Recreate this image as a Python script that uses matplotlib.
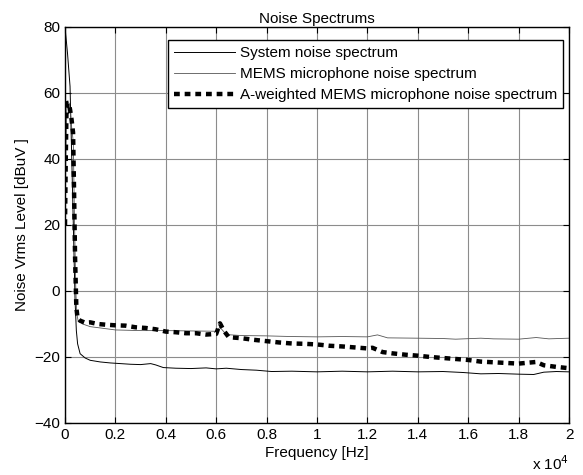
import matplotlib.pyplot as plt
import numpy as np

plt.rcParams['font.family'] = ['Liberation Sans', 'DejaVu Sans']

# Spektra (frekvence v Hz, úroveň v dBuV)
sys_freq = [0, 100, 200, 300, 400, 450, 500, 600, 800, 1000, 1400, 1800, 2200,
            2600, 3000, 3400, 3600, 3900, 4400, 5000, 5600, 6000, 6400, 7000,
            7600, 8200, 9000, 10000, 11000, 12000, 13000, 14000, 15000, 15800,
            16500, 17200, 18000, 18600, 19000, 19500, 20000]
sys_db = [80, 72, 62, 30, -3, -12, -16, -19, -20.3, -21, -21.5, -21.8, -22,
          -22.2, -22.3, -22.0, -22.4, -23.2, -23.4, -23.5, -23.3, -23.6, -23.4, -23.8,
          -24, -24.4, -24.3, -24.5, -24.3, -24.5, -24.3, -24.5, -24.4, -24.7,
          -25.1, -25, -25.2, -25.3, -24.6, -24.4, -24.5]

mems_freq = [0, 40, 80, 150, 200, 260, 330, 380, 430, 470, 520, 700, 1000, 1500,
             2000, 3000, 4000, 5000, 6000, 6150, 6400, 7000, 8000, 9000, 10000,
             11000, 12000, 12400, 12800, 14000, 15000, 15500, 16500, 17000, 18000,
             18700, 19200, 20000]
mems_db = [20, 45, 57, 57, 55, 50, 45, 20, 0, -7, -9, -10, -10.8, -11.3,
           -11.8, -12, -12, -12.1, -12.2, -11, -13.2, -13.5, -13.6, -13.8, -13.9,
           -13.8, -13.9, -13.3, -14.2, -14.3, -14.4, -14.6, -14.3, -14.5, -14.6,
           -14.1, -14.5, -14.3]

aw_freq = [0, 30, 60, 100, 150, 200, 260, 320, 360, 400, 450, 500, 600, 800,
           1000, 1300, 1600, 2000, 2400, 2800, 3200, 3600, 4000, 4400, 4800, 5200,
           5600, 6000, 6150, 6300, 6500, 7000, 7500, 8000, 8500, 9000, 9500, 10000,
           10500, 11000, 11500, 12000, 12200, 12600, 13000, 13500, 14000, 14500,
           15000, 15500, 16000, 16500, 17000, 17500, 18000, 18700, 19000, 19500, 20000]
aw_db = [20, 40, 55, 57, 57, 55, 52, 48, 30, 10, -5, -8.3, -9, -9.6,
         -9.5, -10, -10.2, -10.4, -10.5, -11, -11.2, -11.6, -12.3, -12.5, -12.8, -12.8,
         -13.2, -13, -9.8, -12, -14, -14.3, -14.8, -15.2, -15.6, -15.9, -16, -16.2,
         -16.6, -16.8, -17.1, -17.4, -17.2, -18.5, -18.9, -19.3, -19.6, -20,
         -20.3, -20.6, -20.9, -21.4, -21.6, -21.8, -22, -21.5, -22.5, -23, -23.4]

x_ticks = [0, 0.2, 0.4, 0.6, 0.8, 1, 1.2, 1.4, 1.6, 1.8, 2]
y_ticks = [-40, -20, 0, 20, 40, 60, 80]

fig = plt.figure(figsize=(5.83, 4.75), dpi=100)
ax = fig.add_axes([65 / 583, 1 - 423 / 475, 504 / 583, 396 / 475])

ax.plot(np.array(sys_freq) / 1e4, sys_db, color='black', lw=0.7,
        label='System noise spectrum')
ax.plot(np.array(mems_freq) / 1e4, mems_db, color='#555555', lw=0.6,
        label='MEMS microphone noise spectrum')
ax.plot(np.array(aw_freq) / 1e4, aw_db, color='black', lw=3.2,
        dashes=(1.3, 1.1), label='A-weighted MEMS microphone noise spectrum')

ax.set_xlim(0, 2)
ax.set_ylim(-40, 80)
ax.set_xticks(x_ticks)
ax.set_xticklabels(['0', '0.2', '0.4', '0.6', '0.8', '1', '1.2', '1.4', '1.6', '1.8', '2'])
ax.set_yticks(y_ticks)
ax.grid(True, color='#8c8c8c', lw=0.8)
ax.tick_params(direction='in', top=True, right=True, length=4, labelsize=11)
for s in ax.spines.values():
    s.set_linewidth(1.0)

ax.set_xlabel('Frequency [Hz]', fontsize=11, labelpad=3)
ax.set_ylabel('Noise Vrms Level [dBuV ]', fontsize=11)
ax.set_title('Noise Spectrums', fontsize=11, pad=3)
fig.text(569 / 583, 1 - 464 / 475, 'x 10$^4$', fontsize=11, ha='right', va='center')

leg = ax.legend(loc='upper right', bbox_to_anchor=(563 / 583, 1 - 40 / 475),
                bbox_transform=fig.transFigure, fontsize=11, fancybox=False,
                framealpha=1, edgecolor='black', handlelength=4.0, borderaxespad=0,
                labelspacing=0.45, borderpad=0.4, handletextpad=0.3)
leg.get_frame().set_linewidth(1.0)

fig.savefig('out.png', dpi=100)
